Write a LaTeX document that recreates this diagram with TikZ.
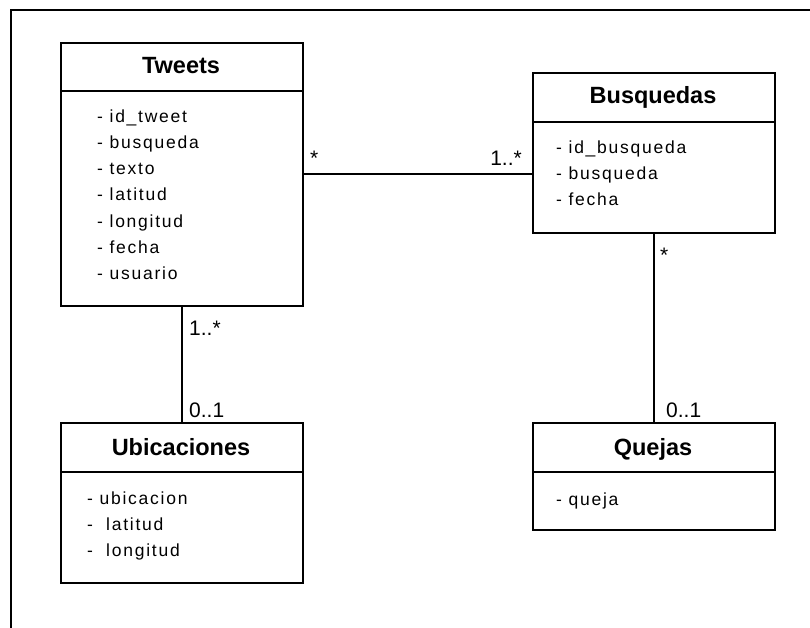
\documentclass[tikz,border=0pt]{standalone}
\usepackage{fontspec}
\setmainfont{Liberation Sans}
\newfontfamily\attrfont[LetterSpace=10]{Liberation Sans}
\begin{document}
\begin{tikzpicture}[x=1pt,y=-1pt,
  classbox/.style={draw, line width=1.6pt, anchor=north west, inner sep=0pt, minimum width=242pt},
  divider/.style={line width=1.6pt},
  conn/.style={line width=1.6pt},
  frame/.style={line width=1.8pt},
  titletext/.style={anchor=base, inner sep=0pt, font=\fontsize{23.5}{27}\selectfont\bfseries},
  attr/.style={anchor=base west, inner sep=0pt, font=\attrfont\fontsize{17.5}{26}\selectfont},
  mult/.style={inner sep=0pt, font=\fontsize{21}{24}\selectfont}]
\useasboundingbox (0,0) rectangle (810,628);
\fill[white] (0,0) rectangle (810,628);
% outer frame (top and left edges only)
\coordinate (fa) at (11,628);
\coordinate (fb) at (11,10);
\coordinate (fc) at (810,10);
\draw[frame] (fa) -- (fb) -- (fc);

% Tweets
\node[classbox, minimum height=263pt] (tweets) at (60,42) {};
\draw[divider] ([yshift=-49pt]tweets.north west) -- ([yshift=-49pt]tweets.north east);
\node[titletext] (tweetsT) at (181,74) {Tweets};
\foreach \t [count=\i] in {id\_tweet, busqueda, texto, latitud, longitud, fecha, usuario}
  \node[attr] (tw\i) at (97,97+26*\i) {- \t};

% Busquedas
\node[classbox, minimum height=160pt] (busq) at (532,72) {};
\draw[divider] ([yshift=-50pt]busq.north west) -- ([yshift=-50pt]busq.north east);
\node[titletext] (busqT) at (653,104) {Busquedas};
\foreach \t [count=\i] in {id\_busqueda, busqueda, fecha}
  \node[attr] (bu\i) at (556,128+26*\i) {- \t};

% Ubicaciones
\node[classbox, minimum height=160pt] (ubic) at (60,422) {};
\draw[divider] ([yshift=-50pt]ubic.north west) -- ([yshift=-50pt]ubic.north east);
\node[titletext] (ubicT) at (181,455) {Ubicaciones};
\node[attr] (ub1) at (87,504) {- ubicacion};
\node[attr] (ub2) at (87,530) {- \ latitud};
\node[attr] (ub3) at (87,556) {- \ longitud};

% Quejas
\node[classbox, minimum height=107pt] (quejas) at (532,422) {};
\draw[divider] ([yshift=-50pt]quejas.north west) -- ([yshift=-50pt]quejas.north east);
\node[titletext] (quejasT) at (653,455) {Quejas};
\node[attr] (qu1) at (556,505) {- queja};

% connectors
\draw[conn] (tweets.east) -- (tweets.east -| busq.west);
\draw[conn] (tweets.south) -- (ubic.north);
\draw[conn] (busq.south) -- (quejas.north);

% multiplicities
\node[mult, anchor=base west] (m1) at (310,166) {*};
\node[mult, anchor=base east] (m2) at (522,166) {1..*};
\node[mult, anchor=base west] (m3) at (189,335) {1..*};
\node[mult, anchor=base west] (m4) at (189,417) {0..1};
\node[mult, anchor=base west] (m5) at (660,262) {*};
\node[mult, anchor=base west] (m6) at (666,417) {0..1};
\end{tikzpicture}
\end{document}
